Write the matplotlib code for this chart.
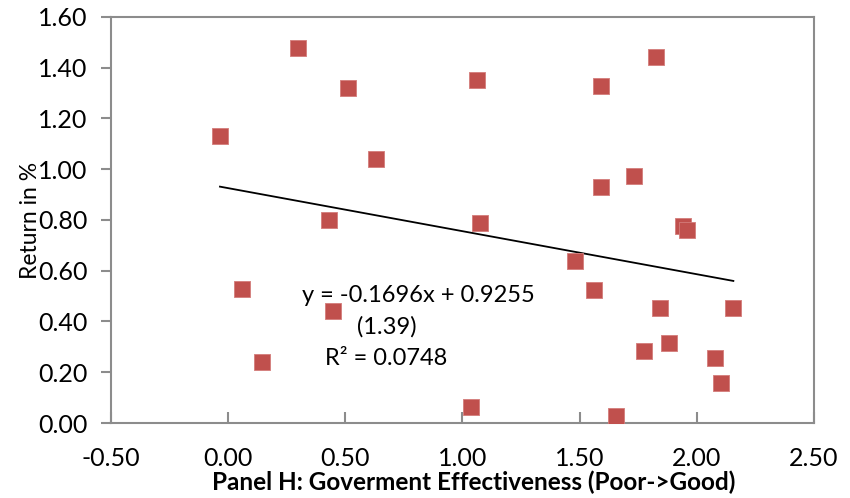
import numpy as np
import matplotlib.pyplot as plt

# Government effectiveness score vs. return
gov_eff = [-0.035, 0.30, 0.513, 0.632, 0.432, 1.061, 1.590, 1.826, 1.591, 1.733,
           1.076, 1.943, 1.958, 0.058, 0.449, 0.146, 1.482, 1.560, 1.843, 2.156,
           1.880, 1.775, 2.077, 2.105, 1.035, 1.655]
returns = [1.132, 1.476, 1.320, 1.039, 0.800, 1.350, 1.327, 1.442, 0.931, 0.972,
           0.787, 0.776, 0.762, 0.529, 0.441, 0.239, 0.638, 0.525, 0.454, 0.454,
           0.314, 0.284, 0.257, 0.156, 0.062, 0.028]

slope, intercept = -0.1696, 0.9255
eq_lines = ["y = -0.1696x + 0.9255", "(1.39)", "R² = 0.0748"]

plt.rcParams['font.family'] = ['Lato', 'DejaVu Sans']

fig = plt.figure(figsize=(8.5, 4.98), dpi=100)
ax = fig.add_axes([0.1306, 0.1506, 0.827, 0.8153])

ax.scatter(gov_eff, returns, marker='s', s=118, color='#C0504D',
           edgecolors='#D47C7A', linewidths=0.6, zorder=3)

xs = np.array([min(gov_eff), max(gov_eff)])
ax.plot(xs, slope * xs + intercept, color='black', linewidth=1.3, zorder=2)

ax.text(0.314, 0.504, eq_lines[0], fontsize=17, va='center', ha='left')
ax.text(0.550, 0.378, eq_lines[1], fontsize=17, va='center', ha='left')
ax.text(0.412, 0.256, eq_lines[2], fontsize=17, va='center', ha='left')

ax.set_xlim(-0.5, 2.5)
ax.set_ylim(0, 1.6)
ax.set_xticks(np.arange(-0.5, 2.51, 0.5))
ax.set_yticks(np.arange(0, 1.61, 0.2))
ax.set_xticklabels([f"{v:.2f}" for v in np.arange(-0.5, 2.51, 0.5)])
ax.set_yticklabels([f"{v:.2f}" for v in np.arange(0, 1.61, 0.2)])

for s in ax.spines.values():
    s.set_color('#8c8c8c')
    s.set_linewidth(1.5)

ax.tick_params(axis='x', direction='in', length=8, width=1.5, color='#8c8c8c',
               labelsize=18, pad=17.5)
ax.tick_params(axis='y', direction='out', length=7, width=1.5, color='#8c8c8c',
               labelsize=18, pad=10)

ax.set_xlabel('Panel H: Goverment Effectiveness (Poor->Good)', fontsize=17.5,
              fontweight='bold')
ax.xaxis.set_label_coords(0.5156, -0.147)
ax.xaxis.label.set_va('center')
ax.set_ylabel('Return in %', fontsize=16.5, labelpad=-2)

fig.savefig('out.png', dpi=100)
